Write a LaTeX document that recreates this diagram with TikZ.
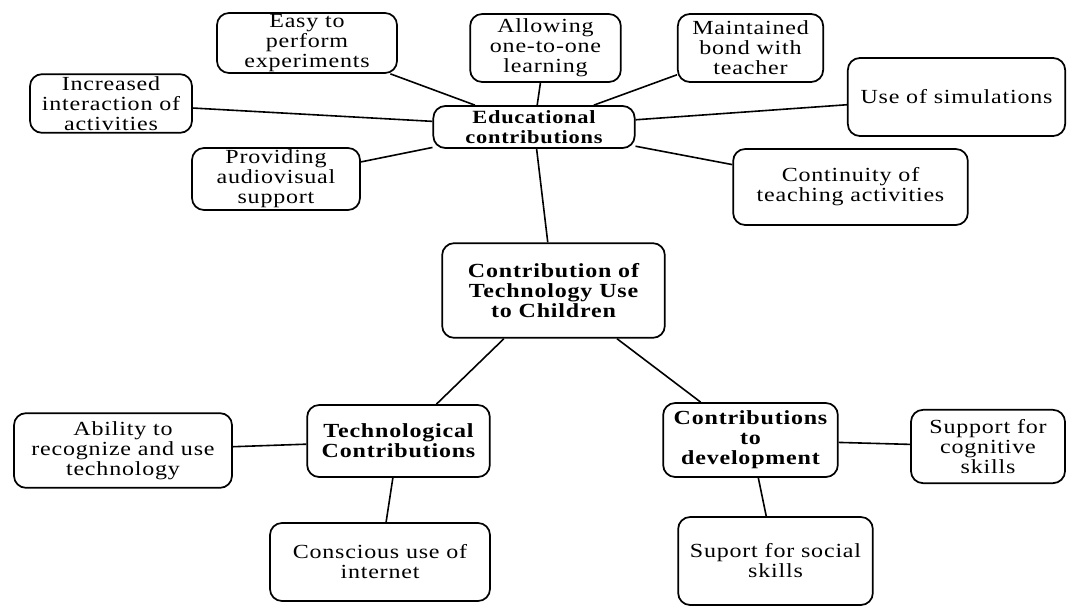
\documentclass[tikz,border=0pt]{standalone}
\usepackage{fontspec}
\setmainfont{Liberation Serif}[FakeStretch=1.2, LetterSpace=4]
\usepackage{tikz}
\usetikzlibrary{shapes.geometric, arrows}
\tikzstyle{topic} = [rectangle, rounded corners=9pt, draw=black, line width=1.3pt, align=center, inner sep=1pt, font=\fontsize{15}{15}\selectfont]
\tikzstyle{hub} = [topic, font=\fontsize{15}{15}\selectfont\bfseries]
\tikzstyle{link} = [line width=1.2pt]

\begin{document}
\begin{tikzpicture}[x=0.75pt, y=-0.75pt]
   \useasboundingbox (0,0) rectangle (1086,607);
   % centre and the three branches
   \node (root) [hub, minimum width=167pt, minimum height=71pt] at (553.5,290.5) {Contribution of\\Technology Use\\to Children};
   \node (edu) [hub, font=\fontsize{14}{14.5}\selectfont\bfseries, minimum width=151pt, minimum height=31.5pt] at (534,127) {Educational\\contributions};
   \node (tech) [hub, minimum width=137pt, minimum height=54pt] at (398.5,441) {Technological\\Contributions};
   \node (dev) [hub, minimum width=131pt, minimum height=55.5pt] at (750.5,440) {Contributions\\to\\development};
   % educational leaves
   \node (easy) [topic, minimum width=135pt, minimum height=43.5pt] at (307,43) {Easy to\\perform\\experiments};
   \node (incr) [topic, minimum width=121.5pt, minimum height=44pt] at (111,103.5) {Increased\\interaction of\\activities};
   \node (prov) [topic, minimum width=126pt, minimum height=46.5pt] at (276,179) {Providing\\audiovisual\\support};
   \node (allow) [topic, minimum width=113pt, minimum height=51pt] at (545.5,48) {Allowing\\one-to-one\\learning};
   \node (bond) [topic, minimum width=109pt, minimum height=51pt] at (750.5,48) {Maintained\\bond with\\teacher};
   \node (simu) [topic, minimum width=163pt, minimum height=58.5pt] at (956.5,97) {Use of simulations};
   \node (cont) [topic, minimum width=176pt, minimum height=57pt] at (850.5,187) {Continuity of\\teaching activities};
   % technological leaves
   \node (abil) [topic, minimum width=163.5pt, minimum height=56pt] at (123,450.5) {Ability to\\recognize and use\\technology};
   \node (cons) [topic, minimum width=165pt, minimum height=58.5pt] at (380,562) {Conscious use of\\internet};
   % development leaves
   \node (cogn) [topic, minimum width=115.5pt, minimum height=55pt] at (988,446.5) {Support for\\cognitive\\skills};
   \node (soc) [topic, minimum width=146pt, minimum height=66pt] at (775.5,561) {Suport for social\\skills};
   \draw [link] (root) -- (edu);
   \draw [link] (root) -- (tech);
   \draw [link] (root) -- (dev);
   \draw [link] (edu) -- (easy);
   \draw [link] (edu) -- (incr);
   \draw [link] (edu) -- (prov);
   \draw [link] (edu) -- (allow);
   \draw [link] (edu) -- (bond);
   \draw [link] (edu) -- (simu);
   \draw [link] (edu) -- (cont);
   \draw [link] (tech) -- (abil);
   \draw [link] (tech) -- (cons);
   \draw [link] (dev) -- (cogn);
   \draw [link] (dev) -- (soc);
\end{tikzpicture}
\end{document}
